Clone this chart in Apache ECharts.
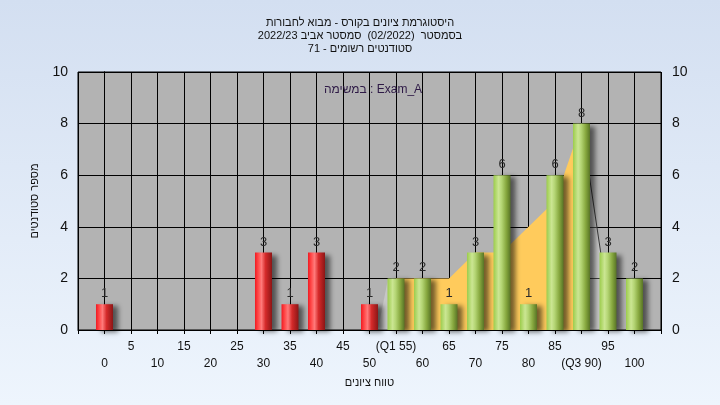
<!DOCTYPE html>
<html>
<head>
<meta charset="utf-8">
<script src="https://cdn.jsdelivr.net/npm/echarts@6/dist/echarts.min.js"></script>
<style>
html,body{margin:0;padding:0;}
#c{width:720px;height:405px;}
</style>
</head>
<body>
<div id="c"></div>
<script>
// ---- data ----
const titleLines = ['היסטוגרמת ציונים בקורס - מבוא לחבורות', 'בסמסטר  (02/2022)  סמסטר אביב 2022/23', 'סטודנטים רשומים - 71'];
const taskLabel = 'במשימה : Exam_A';
const yAxisTitle = 'מספר סטודנטים';
const xAxisTitle = 'טווח ציונים';
const scores = [0, 30, 35, 40, 50, 55, 60, 65, 70, 75, 80, 85, 90, 95, 100];
const counts = [1, 3, 1, 3, 1, 2, 2, 1, 3, 6, 1, 6, 8, 3, 2];
const passScore = 55;
const q1 = 55, q3 = 90;
const curveX = [55, 65, 70, 75, 85, 90];
const curveY = [2, 2, 3, 3, 5, 8];
const leftTailX = [51.6, 53.5, 55];
const leftTailY = [0, 2, 2];
const rightTailX = [90, 95.8];
const rightTailY = [8, 0];
const xMin = -5, xMax = 105, xStep = 5;
const yMin = 0, yMax = 10, yStep = 2;

const FONT = 'Liberation Sans, Arial, sans-serif';

const redGrad = {type: 'linear', x: 0, y: 0, x2: 1, y2: 0, colorStops: [
  {offset: 0, color: '#f01a22'}, {offset: 0.18, color: '#ff4646'}, {offset: 0.38, color: '#ff7a7a'},
  {offset: 0.62, color: '#d52a2a'}, {offset: 1, color: '#8c1616'}]};
const greenGrad = {type: 'linear', x: 0, y: 0, x2: 1, y2: 0, colorStops: [
  {offset: 0, color: '#9ccc4c'}, {offset: 0.3, color: '#cbe693'}, {offset: 0.48, color: '#b4d574'},
  {offset: 0.75, color: '#86a73e'}, {offset: 1, color: '#587426'}]};

const barData = scores.map((s, i) => ({
  value: [s, counts[i]],
  itemStyle: {color: s < passScore ? redGrad : greenGrad}
}));
const pairs = (xs, ys) => xs.map((x, i) => [x, ys[i]]);

const chart = echarts.init(document.getElementById('c'), null, {renderer: 'canvas'});
const axisCommon = {
  type: 'value', min: xMin, max: xMax, interval: xStep, gridIndex: 0, position: 'bottom'
};
const tickFmt = v => v === q1 ? '(Q1 ' + v + ')' : v === q3 ? '(Q3 ' + v + ')' : String(v);
const smallText = {fontFamily: FONT, fontSize: 11, color: '#111'};
chart.setOption({
  animation: false,
  backgroundColor: {type: 'linear', x: 0, y: 0, x2: 0, y2: 1, colorStops: [
    {offset: 0, color: '#d3dff1'}, {offset: 1, color: '#eef5fd'}]},
  title: [
    {text: titleLines.join('\n'), left: 'center', top: 11,
     textStyle: {fontFamily: FONT, fontSize: 11, lineHeight: 13, fontWeight: 'normal', color: '#111'}},
    {text: taskLabel, left: 368, textAlign: 'center', top: 79,
     textStyle: {fontFamily: FONT, fontSize: 12, fontWeight: 'normal', color: '#2e1a46'}}
  ],
  grid: {left: 78, right: 59, top: 72, bottom: 75, show: true, backgroundColor: '#b3b3b3',
         borderColor: '#000', borderWidth: 1},
  xAxis: [
    Object.assign({}, axisCommon, {
      name: xAxisTitle, nameLocation: 'middle', nameGap: 47,
      nameTextStyle: smallText,
      axisLine: {show: true, lineStyle: {color: '#000', width: 1}},
      axisTick: {show: true, length: 4, lineStyle: {color: '#000'}},
      splitLine: {show: true, lineStyle: {color: '#000', width: 1}},
      axisLabel: {margin: 11, fontFamily: FONT, fontSize: 12, color: '#111', showMinLabel: true, showMaxLabel: true,
        formatter: v => (v >= 0 && v <= 100 && v % 10 === 5) ? tickFmt(v) : ''}
    }),
    Object.assign({}, axisCommon, {
      axisLine: {show: false}, axisTick: {show: false}, splitLine: {show: false},
      axisLabel: {margin: 28, fontFamily: FONT, fontSize: 12, color: '#111', showMinLabel: true, showMaxLabel: true,
        formatter: v => (v >= 0 && v <= 100 && v % 10 === 0) ? tickFmt(v) : ''}
    })
  ],
  yAxis: [
    {type: 'value', min: yMin, max: yMax, interval: yStep, position: 'left',
     name: yAxisTitle, nameLocation: 'middle', nameGap: 38, nameRotate: 90,
     nameTextStyle: smallText,
     axisLine: {show: true, lineStyle: {color: '#000'}},
     axisTick: {show: true, length: 7, lineStyle: {color: '#000'}},
     splitLine: {show: true, lineStyle: {color: '#000', width: 1}},
     axisLabel: {margin: 10, fontFamily: FONT, fontSize: 14, color: '#111'}},
    {type: 'value', min: yMin, max: yMax, interval: yStep, position: 'right',
     axisLine: {show: true, lineStyle: {color: '#000'}},
     axisTick: {show: true, length: 7, lineStyle: {color: '#000'}},
     splitLine: {show: false},
     axisLabel: {margin: 11, fontFamily: FONT, fontSize: 14, color: '#111'}}
  ],
  series: [
    {type: 'line', name: 'leftTail', z: 1, data: pairs(leftTailX, leftTailY), symbol: 'none', silent: true,
     lineStyle: {width: 0, opacity: 0}, areaStyle: {color: 'rgba(255,255,255,0.25)', opacity: 1}},
    {type: 'line', name: 'iqr', z: 1, data: pairs(curveX, curveY), symbol: 'none', silent: true,
     lineStyle: {width: 0, opacity: 0}, areaStyle: {color: '#ffcb5c', opacity: 1}},
    {type: 'line', name: 'rightTail', z: 1, data: pairs(rightTailX, rightTailY), symbol: 'none', silent: true,
     lineStyle: {width: 1, color: '#3a3a3a'}, areaStyle: {color: 'rgba(255,255,255,0.25)', opacity: 1}},
    {type: 'bar', name: 'counts', z: 5, data: barData, barWidth: 17,
     itemStyle: {shadowColor: 'rgba(0,0,0,0.55)', shadowBlur: 5, shadowOffsetX: 5, shadowOffsetY: 2},
     label: {show: true, position: 'top', distance: 4, fontFamily: FONT, fontSize: 13, color: '#2a2a2a',
             formatter: p => String(p.value[1])}}
  ]
});
</script>
</body>
</html>
